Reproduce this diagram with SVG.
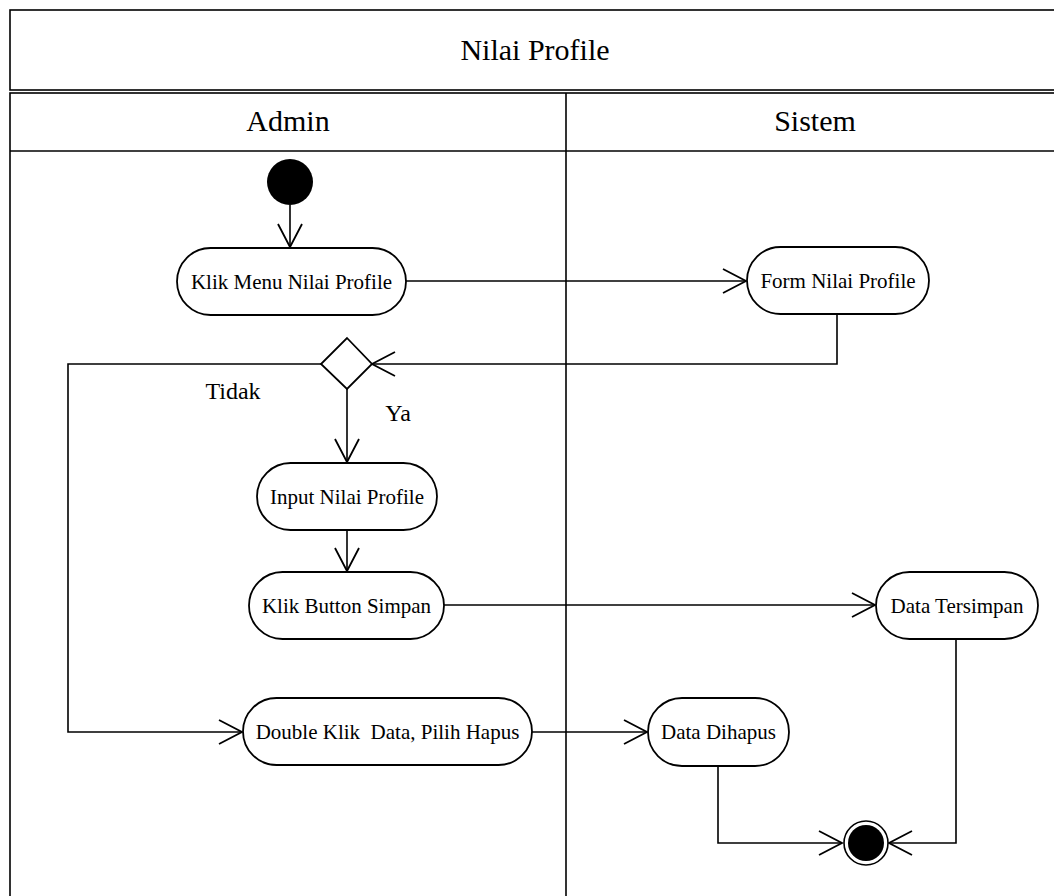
<svg xmlns="http://www.w3.org/2000/svg" width="1054" height="896" viewBox="0 0 1054 896">
  <style>
    .frame { fill: none; stroke: #000; stroke-width: 1.6; }
    .act { fill: #fff; stroke: #000; stroke-width: 1.8; }
    .flow { fill: none; stroke: #000; stroke-width: 1.6; }
    .big { font-family: "Liberation Serif", "Times New Roman", serif; font-size: 30px; fill: #000; text-anchor: middle; }
    .lbl { font-family: "Liberation Serif", "Times New Roman", serif; font-size: 21px; fill: #000; text-anchor: middle; white-space: pre; }
    .guard { font-family: "Liberation Serif", "Times New Roman", serif; font-size: 24px; fill: #000; text-anchor: middle; }
  </style>
  <defs>
    <marker id="open" viewBox="-25 -14 28 28" refX="0" refY="0" markerWidth="28" markerHeight="28" markerUnits="userSpaceOnUse" orient="auto">
      <path d="M-23,-12 L0,0 L-23,12" fill="none" stroke="#000" stroke-width="1.8"/>
    </marker>
  </defs>

  <rect width="1054" height="896" fill="#fff"/>

  <!-- swimlane frame -->
  <g id="swimlanes">
    <rect class="frame" x="10" y="10" width="1054" height="80"/>
    <text class="big" x="535" y="60">Nilai Profile</text>
    <rect class="frame" x="10" y="93" width="1054" height="820"/>
    <line class="frame" x1="10" y1="151" x2="1064" y2="151"/>
    <line class="frame" x1="566" y1="93" x2="566" y2="913"/>
    <text class="big" x="288" y="131">Admin</text>
    <text class="big" x="815" y="131">Sistem</text>
  </g>

  <!-- connectors -->
  <g id="connectors">
    <line class="flow" x1="290" y1="205" x2="290" y2="247" marker-end="url(#open)"/>
    <line class="flow" x1="406" y1="281" x2="746" y2="281" marker-end="url(#open)"/>
    <polyline class="flow" points="837,314 837,364 372,364" marker-end="url(#open)"/>
    <line class="flow" x1="347" y1="389" x2="347" y2="462" marker-end="url(#open)"/>
    <polyline class="flow" points="321,364 68,364 68,732 242,732" marker-end="url(#open)"/>
    <line class="flow" x1="347" y1="530" x2="347" y2="571" marker-end="url(#open)"/>
    <line class="flow" x1="444" y1="605" x2="875" y2="605" marker-end="url(#open)"/>
    <line class="flow" x1="532" y1="732" x2="647" y2="732" marker-end="url(#open)"/>
    <polyline class="flow" points="718,766 718,843 842,843" marker-end="url(#open)"/>
    <polyline class="flow" points="956,639 956,843 889,843" marker-end="url(#open)"/>
    <text class="guard" x="233" y="399">Tidak</text>
    <text class="guard" x="398" y="421">Ya</text>
  </g>

  <g id="start">
    <circle cx="290" cy="182" r="23" fill="#000"/>
  </g>

  <g id="klik-menu">
    <rect class="act" x="177" y="248" width="229" height="67" rx="33.5"/>
    <text class="lbl" x="291.5" y="289">Klik Menu Nilai Profile</text>
  </g>

  <g id="form-nilai">
    <rect class="act" x="747" y="247" width="182" height="67" rx="33.5"/>
    <text class="lbl" x="838" y="288">Form Nilai Profile</text>
  </g>

  <g id="decision">
    <polygon class="act" points="347,338 372,364 347,389 321,364"/>
  </g>

  <g id="input-nilai">
    <rect class="act" x="257" y="463" width="180" height="67" rx="33.5"/>
    <text class="lbl" x="347" y="504">Input Nilai Profile</text>
  </g>

  <g id="klik-simpan">
    <rect class="act" x="249" y="572" width="195" height="67" rx="33.5"/>
    <text class="lbl" x="346.5" y="613">Klik Button Simpan</text>
  </g>

  <g id="data-tersimpan">
    <rect class="act" x="876" y="572" width="162" height="67" rx="33.5"/>
    <text class="lbl" x="957" y="613">Data Tersimpan</text>
  </g>

  <g id="double-klik">
    <rect class="act" x="243" y="698" width="289" height="67" rx="33.5"/>
    <text class="lbl" x="387.5" y="739" xml:space="preserve">Double Klik  Data, Pilih Hapus</text>
  </g>

  <g id="data-dihapus">
    <rect class="act" x="648" y="698" width="141" height="68" rx="34"/>
    <text class="lbl" x="718.5" y="739">Data Dihapus</text>
  </g>

  <g id="end">
    <circle cx="866" cy="843" r="22" fill="#fff" stroke="#000" stroke-width="1.6"/>
    <circle cx="866" cy="843" r="18" fill="#000"/>
  </g>
</svg>
